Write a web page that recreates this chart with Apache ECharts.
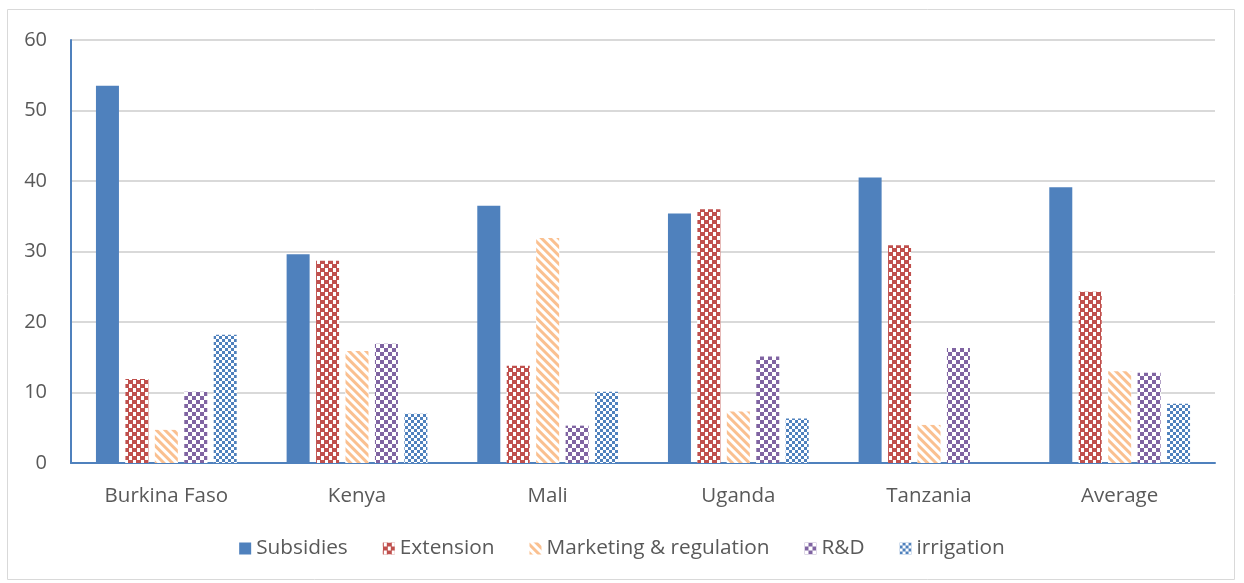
<!DOCTYPE html>
<html><head><meta charset="utf-8">
<script src="https://cdn.jsdelivr.net/npm/echarts@6/dist/echarts.min.js"></script>
<style>html,body{margin:0;padding:0;background:#fff}#c{width:1244px;height:583px}</style>
</head><body><div id="c"></div>
<script>
const categories = ['Burkina Faso','Kenya','Mali','Uganda','Tanzania','Average'];
const subsidies = [53.5, 29.6, 36.5, 35.4, 40.5, 39.1];
const extension = [11.9, 28.7, 13.8, 36.0, 30.9, 24.3];
const marketing = [4.7, 15.9, 31.9, 7.3, 5.4, 13.0];
const rnd = [10.1, 16.9, 5.3, 15.1, 16.3, 12.8];
const irrigation = [18.2, 7.0, 10.1, 6.3, 0, 8.4];
const seriesNames = ['Subsidies','Extension','Marketing & regulation','R&D','irrigation'];

const FONT = '"Open Sans", "Noto Sans", sans-serif';
const chart = echarts.init(document.getElementById('c'), null, {renderer:'canvas'});
function checker(color, s){
  return {symbol:'rect', symbolSize:1, color:color, backgroundColor:'#ffffff',
    dashArrayX:[[s,s],[0,s,s,0]], dashArrayY:[s,0], rotation:0};
}
const decals = [
  null,
  {symbol:'rect', symbolSize:1, color:'#C0504D', backgroundColor:'#ffffff',
    dashArrayX:[[5,3],[1,3,4,0]], dashArrayY:[4,0], rotation:0},
  {symbol:'rect', symbolSize:1, color:'#FAC090', backgroundColor:'#ffffff', dashArrayX:[1,0], dashArrayY:[3,3], rotation:Math.PI/4},
  checker('#8064A2', 4),
  checker('#4F81BD', 3)
];
const colors = ['#4F81BD','#C0504D','#FAC090','#8064A2','#4F81BD'];
const data = [subsidies, extension, marketing, rnd, irrigation];
chart.setOption({
  animation:false,
  graphic:[{type:'rect', shape:{x:7.5,y:9.5,width:1227,height:570}, style:{fill:'none', stroke:'#D9D9D9', lineWidth:1}, silent:true}],
  grid:{left:71, right:29, top:40, bottom:120},
  legend:{bottom:19, left:'center', itemWidth:12, itemHeight:12, itemGap:35, icon:'rect',
    textStyle:{fontFamily:FONT, fontSize:20.8, color:'#595959'}, data:seriesNames},
  xAxis:{type:'category', data:categories,
    axisLine:{lineStyle:{color:'#4F81BD', width:2}}, axisTick:{show:false},
    axisLabel:{fontFamily:FONT, fontSize:20.5, color:'#595959', margin:23}},
  yAxis:{type:'value', min:0, max:60, interval:10,
    axisLine:{show:true, lineStyle:{color:'#4F81BD', width:2}},
    splitLine:{lineStyle:{color:'#D9D9D9', width:2}},
    axisLabel:{fontFamily:FONT, fontSize:20, color:'#595959', margin:24}},
  series: data.map((d,i)=>({
    name:seriesNames[i], type:'bar', data:d, barWidth:23, barGap:'28%',
    itemStyle: i===0 ? {color:colors[i]} : {color:'#ffffff', decal:decals[i]}
  }))
});
</script></body></html>
